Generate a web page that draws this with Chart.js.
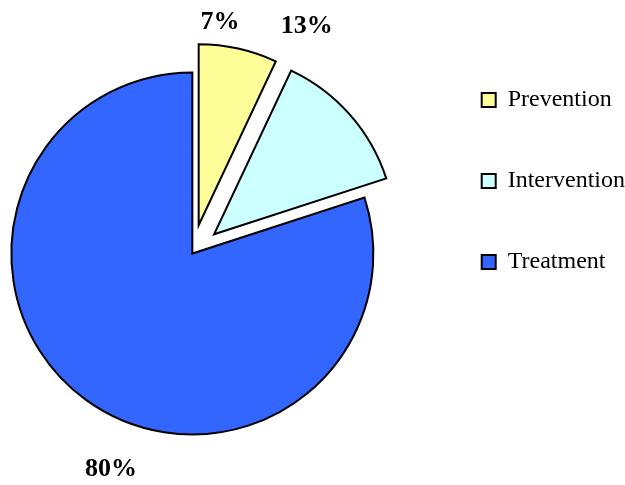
<!DOCTYPE html>
<html>
<head>
<meta charset="utf-8">
<script src="https://cdn.jsdelivr.net/npm/chart.js@4.4.1/dist/chart.umd.min.js"></script>
<style>
html,body{margin:0;padding:0;overflow:hidden;background:#fff;width:625px;height:485px;}
#wrap{position:absolute;left:-40px;top:0;width:675px;height:485px;}
</style>
</head>
<body>
<div id="wrap"><canvas id="c" width="675" height="485"></canvas></div>
<script>
// ---- data ----
const categories = ['Prevention', 'Intervention', 'Treatment'];
const shares = [7, 13, 80];

// ---- styles ----
const sliceColors = ['#FFFF99', '#CCFFFF', '#3366FF'];
const explodeDistance = [29, 29, 0];          // px, pulled out along slice mid-angle
const labelAngleDeg = [6, 24, 200.6];          // clockwise from 12 o'clock
const labelGap = [23, 47, 50];                 // px beyond slice outer radius
const serif = '"Liberation Serif","Times New Roman",serif';

Chart.defaults.color = '#000';

const explodePlugin = {
  id: 'explode',
  afterDatasetUpdate(chart, args) {
    const meta = chart.getDatasetMeta(args.index);
    meta.data.forEach((arc, i) => {
      const d = explodeDistance[i] || 0;
      const mid = (arc.startAngle + arc.endAngle) / 2;
      arc.x += Math.cos(mid) * d;
      arc.y += Math.sin(mid) * d;
    });
  }
};

const pctLabelPlugin = {
  id: 'pctLabels',
  afterDatasetsDraw(chart) {
    const ctx = chart.ctx;
    const meta = chart.getDatasetMeta(0);
    const data = chart.data.datasets[0].data;
    const total = data.reduce((a, b) => a + b, 0);
    ctx.save();
    ctx.font = 'bold 26px ' + serif;
    ctx.fillStyle = '#000';
    ctx.textAlign = 'center';
    ctx.textBaseline = 'middle';
    meta.data.forEach((arc, i) => {
      const a = (labelAngleDeg[i] - 90) * Math.PI / 180;
      const r = arc.outerRadius + labelGap[i];
      const x = arc.x + Math.cos(a) * r;
      const y = arc.y + Math.sin(a) * r;
      ctx.fillText(Math.round(data[i] / total * 100) + '%', x, y);
    });
    ctx.restore();
  }
};

new Chart(document.getElementById('c'), {
  type: 'pie',
  data: {
    labels: categories,
    datasets: [{
      data: shares,
      backgroundColor: sliceColors,
      borderColor: '#000000',
      borderWidth: 2,
      borderJoinStyle: 'miter',
      hoverOffset: 0,
      offset: 0
    }]
  },
  options: {
    responsive: false,
    animation: false,
    events: [],
    radius: 181,
    layout: { padding: { top: 31, bottom: 9, left: 0, right: 0 } },
    plugins: {
      tooltip: { enabled: false },
      legend: {
        position: 'right',
        align: 'start',
        labels: {
          font: { family: serif, size: 24 },
          color: '#000',
          boxWidth: 14,
          boxHeight: 14,
          padding: 57
        }
      }
    }
  },
  plugins: [explodePlugin, pctLabelPlugin]
});
</script>
</body>
</html>
